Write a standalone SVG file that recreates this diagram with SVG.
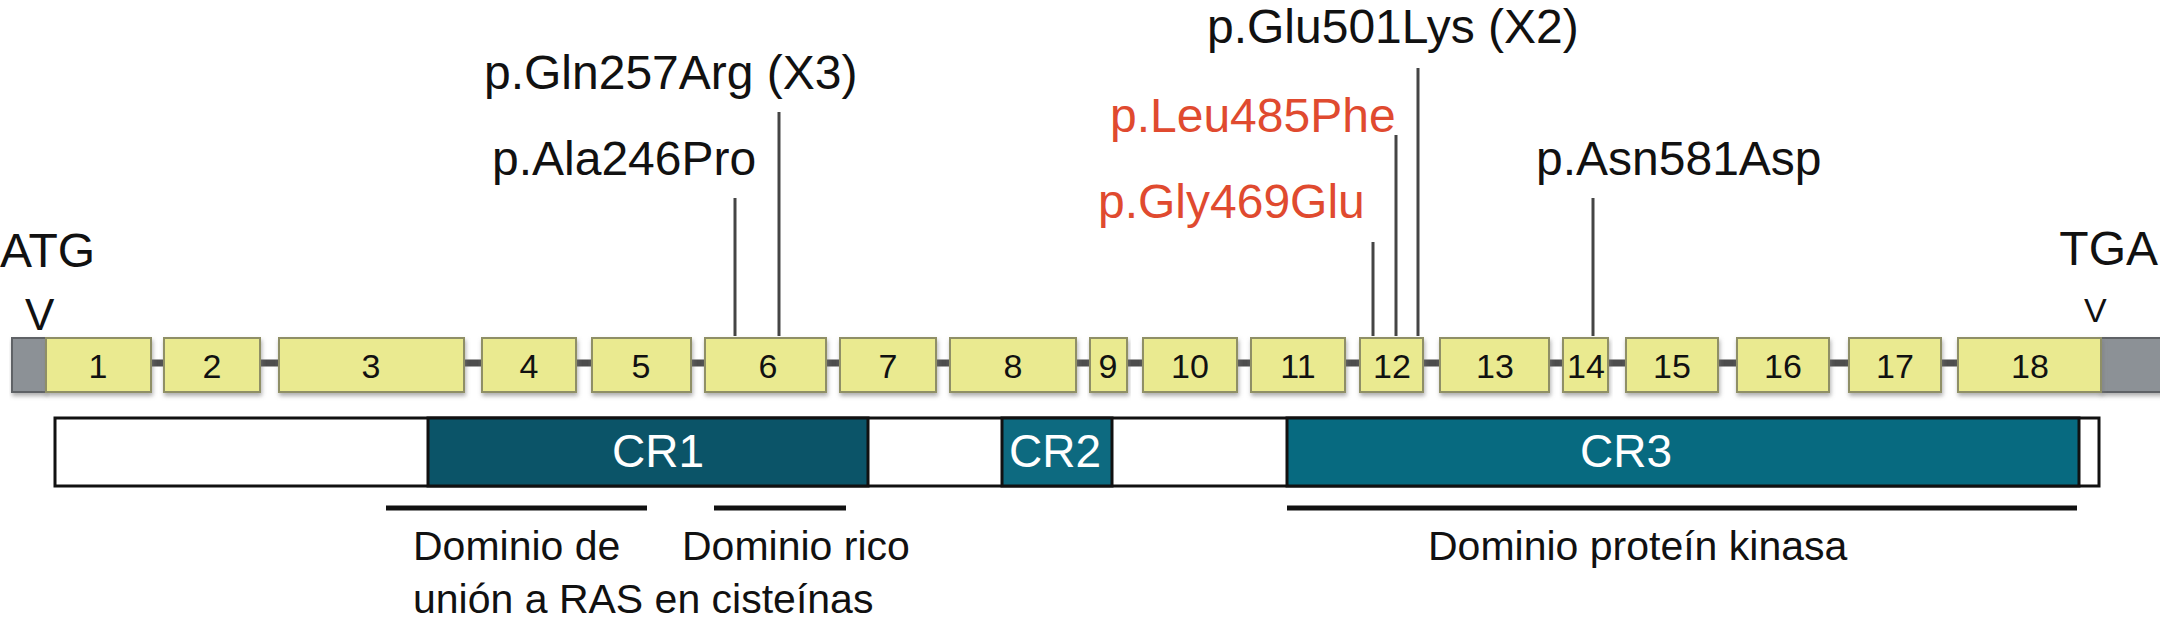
<svg xmlns="http://www.w3.org/2000/svg" width="2160" height="636" viewBox="0 0 2160 636">
<defs>
<style>
text{font-family:"Liberation Sans",Arial,Helvetica,sans-serif;fill:#111}
.mut{font-size:48px}
.red{fill:#e04a2f}
.end{font-size:48px}
.ex{fill:#eaea90;stroke:#8f8f66;stroke-width:2;filter:url(#sh)}
.gray{fill:#8c9196;stroke:#5e6266;stroke-width:2;filter:url(#sh)}
.exl{font-size:34px;text-anchor:middle}
.mline{stroke:#454545;stroke-width:3}
.cr{font-size:46px;fill:#fff;text-anchor:middle}
.dom{font-size:41px}
.dline{stroke:#111;stroke-width:5}
</style>
<filter id="sh" x="-10%" y="-20%" width="120%" height="150%">
<feGaussianBlur in="SourceAlpha" stdDeviation="2"/>
<feOffset dx="1" dy="3" result="b"/>
<feFlood flood-color="#7a7a7a" flood-opacity="0.6"/>
<feComposite in2="b" operator="in"/>
<feMerge><feMergeNode/><feMergeNode in="SourceGraphic"/></feMerge>
</filter>
</defs>
<rect width="2160" height="636" fill="#fff"/>

<g id="connectors">
<line x1="12" y1="363" x2="2160" y2="363" stroke="#4d4d4d" stroke-width="7"/>
<line class="mline" x1="735" y1="198" x2="735" y2="336"/>
<line class="mline" x1="779" y1="112" x2="779" y2="336"/>
<line class="mline" x1="1373" y1="242" x2="1373" y2="336"/>
<line class="mline" x1="1396" y1="135" x2="1396" y2="336"/>
<line class="mline" x1="1418" y1="68" x2="1418" y2="336"/>
<line class="mline" x1="1593" y1="198" x2="1593" y2="336"/>
</g>

<g id="start"><rect class="gray" x="12" y="338" width="34" height="54"/></g>
<g id="end"><rect class="gray" x="2101" y="338" width="62" height="54"/></g>

<g id="exon1"><rect class="ex" x="46" y="338" width="105" height="54"/><text class="exl" x="98" y="378">1</text></g>
<g id="exon2"><rect class="ex" x="164" y="338" width="96" height="54"/><text class="exl" x="212" y="378">2</text></g>
<g id="exon3"><rect class="ex" x="279" y="338" width="185" height="54"/><text class="exl" x="371" y="378">3</text></g>
<g id="exon4"><rect class="ex" x="482" y="338" width="94" height="54"/><text class="exl" x="529" y="378">4</text></g>
<g id="exon5"><rect class="ex" x="592" y="338" width="99" height="54"/><text class="exl" x="641" y="378">5</text></g>
<g id="exon6"><rect class="ex" x="705" y="338" width="121" height="54"/><text class="exl" x="768" y="378">6</text></g>
<g id="exon7"><rect class="ex" x="840" y="338" width="96" height="54"/><text class="exl" x="888" y="378">7</text></g>
<g id="exon8"><rect class="ex" x="950" y="338" width="126" height="54"/><text class="exl" x="1013" y="378">8</text></g>
<g id="exon9"><rect class="ex" x="1090" y="338" width="37" height="54"/><text class="exl" x="1108" y="378">9</text></g>
<g id="exon10"><rect class="ex" x="1143" y="338" width="94" height="54"/><text class="exl" x="1190" y="378">10</text></g>
<g id="exon11"><rect class="ex" x="1251" y="338" width="94" height="54"/><text class="exl" x="1298" y="378">11</text></g>
<g id="exon12"><rect class="ex" x="1360" y="338" width="63" height="54"/><text class="exl" x="1392" y="378">12</text></g>
<g id="exon13"><rect class="ex" x="1440" y="338" width="109" height="54"/><text class="exl" x="1495" y="378">13</text></g>
<g id="exon14"><rect class="ex" x="1563" y="338" width="45" height="54"/><text class="exl" x="1586" y="378">14</text></g>
<g id="exon15"><rect class="ex" x="1626" y="338" width="92" height="54"/><text class="exl" x="1672" y="378">15</text></g>
<g id="exon16"><rect class="ex" x="1737" y="338" width="92" height="54"/><text class="exl" x="1783" y="378">16</text></g>
<g id="exon17"><rect class="ex" x="1849" y="338" width="92" height="54"/><text class="exl" x="1895" y="378">17</text></g>
<g id="exon18"><rect class="ex" x="1958" y="338" width="143" height="54"/><text class="exl" x="2030" y="378">18</text></g>

<g id="labels-ends">
<text class="end" x="0" y="267">ATG</text>
<text x="25" y="330" style="font-size:44px">V</text>
<text class="end" x="2158" y="265" text-anchor="end">TGA</text>
<text x="2084" y="322" style="font-size:34px">V</text>
</g>

<g id="mutations">
<text class="mut" x="484" y="89">p.Gln257Arg (X3)</text>
<text class="mut" x="492" y="175">p.Ala246Pro</text>
<text class="mut" x="1207" y="43">p.Glu501Lys (X2)</text>
<text class="mut red" x="1110" y="132">p.Leu485Phe</text>
<text class="mut red" x="1098" y="218">p.Gly469Glu</text>
<text class="mut" x="1536" y="175">p.Asn581Asp</text>
</g>

<g id="protein">
<rect x="55" y="418" width="2044" height="68" fill="#fff" stroke="#111" stroke-width="3"/>
<rect x="428" y="418" width="440" height="68" fill="#0b5468" stroke="#111" stroke-width="3"/>
<rect x="1002" y="418" width="110" height="68" fill="#0d6a80" stroke="#111" stroke-width="3"/>
<rect x="1287" y="418" width="792" height="68" fill="#076a80" stroke="#111" stroke-width="3"/>
<text class="cr" x="658" y="467">CR1</text>
<text class="cr" x="1055" y="467">CR2</text>
<text class="cr" x="1626" y="467">CR3</text>
</g>

<g id="domains">
<line class="dline" x1="386" y1="508" x2="647" y2="508"/>
<line class="dline" x1="714" y1="508" x2="846" y2="508"/>
<line class="dline" x1="1287" y1="508" x2="2077" y2="508"/>
<text class="dom" x="413" y="560">Dominio de</text>
<text class="dom" x="682" y="560">Dominio rico</text>
<text class="dom" x="413" y="613">unión a RAS en cisteínas</text>
<text class="dom" x="1428" y="560">Dominio proteín kinasa</text>
</g>
</svg>
